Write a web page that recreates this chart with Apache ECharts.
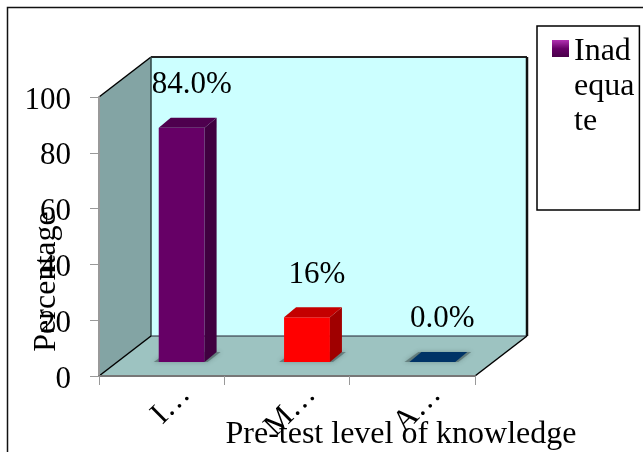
<!DOCTYPE html>
<html>
<head>
<meta charset="utf-8">
<style>html,body{margin:0;padding:0;background:#fff}#c{width:643px;height:452px}</style>
<script src="https://cdn.jsdelivr.net/npm/echarts@6/dist/echarts.min.js"></script>
</head>
<body>
<div id="c"></div>
<script>
// Pre-test knowledge levels, drawn as a pseudo-3D column chart.
const categories = ['I…', 'M…', 'A…'];
const values = [84, 16, 0];
const valueLabels = ['84.0%', '16%', '0.0%'];
const seriesName = 'Inadequate';
const frontColors = ['#660066', '#ff0000', '#003366'];
const sideColors = ['#400040', '#a00000', '#002244'];
const topColors = ['#4e004e', '#c40000', '#003366'];
const yTicks = [0, 100, 20];

const SERIF = '"Liberation Serif", serif';
const FONT = 31;
const TITLE_FONT = 32;
const DEPTH_X = 52, DEPTH_Y = 40;     // wall depth of the box
const BAR_DX = 12, BAR_DY = 10;       // depth of each column
const BAR_SHIFT_X = 20, BAR_SHIFT_Y = 14; // columns stand mid-floor

const chart = echarts.init(document.getElementById('c'), null, { renderer: 'canvas' });

function poly(points, fill, extra) {
  return Object.assign({ type: 'polygon', shape: { points }, style: { fill } }, extra || {});
}
function edge(x1, y1, x2, y2, stroke, lineWidth) {
  return { type: 'line', shape: { x1, y1, x2, y2 }, style: { stroke, lineWidth } };
}

// Back wall, side wall and floor of the box, derived from the plot rectangle.
function renderBox(params) {
  const g = params.coordSys;
  const l = g.x, r = g.x + g.width, t = g.y, b = g.y + g.height;
  const dx = DEPTH_X, dy = DEPTH_Y;
  return {
    type: 'group',
    children: [
      poly([[l + dx, t - dy], [r + dx, t - dy], [r + dx, b - dy], [l + dx, b - dy]], '#ccffff'),
      poly([[l, t], [l + dx, t - dy], [l + dx, b - dy], [l, b]], '#83a4a4'),
      poly([[l, b], [l + dx, b - dy], [r + dx, b - dy], [r, b]], '#9dc3c1'),
      edge(l, t, l + dx, t - dy, '#000', 1.5),
      edge(l + dx, t - dy, r + dx, t - dy, '#222', 2),
      edge(r + dx, t - dy, r + dx, b - dy, '#111', 2.5),
      edge(l + dx, t - dy, l + dx, b - dy, '#2f4444', 1.5),
      edge(l + dx, b - dy, r + dx, b - dy, '#223', 1),
      edge(l, b, l + dx, b - dy, '#000', 1.5),
      edge(r, b, r + dx, b - dy, '#000', 1.5)
    ]
  };
}

// One column: floor shadow, front, side and top faces, and its value label.
function renderBar(params, api) {
  const i = api.value(0);
  const top = api.coord([i, api.value(1)]);
  const base = api.coord([i, 0]);
  const w = api.size([1, 0])[0] * 0.366;
  const x0 = top[0] + BAR_SHIFT_X - w / 2, x1 = x0 + w;
  const yb = base[1] - BAR_SHIFT_Y, yt = top[1] - BAR_SHIFT_Y;
  const dx = BAR_DX, dy = BAR_DY;
  const children = [
    poly([[x0 - 5, yb], [x0 + dx - 3, yb - dy], [x1 + dx + 4, yb - dy], [x1 + 3, yb]], 'rgba(70,90,90,0.55)', {
      style: { fill: 'rgba(70,90,90,0.55)', shadowBlur: 4, shadowColor: 'rgba(60,80,80,0.7)' }
    })
  ];
  if (yb - yt > 0.5) {
    children.push(poly([[x0, yb], [x0, yt], [x1, yt], [x1, yb]], frontColors[i]));
    children.push(poly([[x1, yb], [x1, yt], [x1 + dx, yt - dy], [x1 + dx, yb - dy]], sideColors[i]));
  }
  children.push(poly([[x0, yt], [x0 + dx, yt - dy], [x1 + dx, yt - dy], [x1, yt]], topColors[i]));
  children.push({
    type: 'text',
    style: {
      text: valueLabels[i], x: top[0] + 30, y: yt - dy - 33,
      font: FONT + 'px ' + SERIF, fill: '#000', align: 'center', verticalAlign: 'middle'
    }
  });
  return { type: 'group', children };
}

chart.setOption({
  animation: false,
  backgroundColor: '#fff',
  grid: { left: 99, top: 97, width: 376, height: 279, containLabel: false, outerBoundsMode: 'none' },
  graphic: [{
    type: 'rect', z: -1, silent: true,
    shape: { x: 7.5, y: 7.5, width: 700, height: 500 },
    style: { fill: 'transparent', stroke: '#111', lineWidth: 1.5 }
  }],
  legend: {
    data: [seriesName],
    left: 537, top: 26,
    orient: 'vertical',
    backgroundColor: '#fff',
    borderColor: '#000', borderWidth: 1.5, borderRadius: 0,
    padding: [8, 5, 71, 15],
    itemWidth: 17, itemHeight: 105, itemGap: 0,
    // The swatch sits level with the first line of the wrapped name.
    icon: 'path://M0 0L0.01 0M0 6H17V23H0ZM0 105L0.01 105',
    formatter: () => 'Inad\nequa\nte',
    textStyle: { fontFamily: SERIF, fontSize: TITLE_FONT, lineHeight: 35, color: '#000' },
    itemStyle: {
      color: new echarts.graphic.LinearGradient(0, 0, 0, 1, [
        { offset: 0.06, color: '#b030b0' }, { offset: 0.14, color: '#660066' }, { offset: 0.22, color: '#4a004a' }
      ])
    }
  },
  xAxis: {
    type: 'category',
    data: categories,
    z: 4,
    name: 'Pre-test level of knowledge',
    nameLocation: 'middle',
    nameGap: 43,
    nameMoveOverlap: false,
    nameTextStyle: { fontFamily: SERIF, fontSize: TITLE_FONT, color: '#000', padding: [0, 0, 0, 228] },
    axisLine: { lineStyle: { color: '#777', width: 2 } },
    axisTick: { show: true, length: 9, alignWithLabel: false, lineStyle: { color: '#999', width: 1 } },
    axisLabel: { rotate: 45, interval: 0, margin: 38, padding: [0, -34, 0, 0], fontFamily: SERIF, fontSize: FONT, color: '#000' }
  },
  yAxis: {
    type: 'value',
    min: yTicks[0], max: yTicks[1], interval: yTicks[2],
    z: 4,
    name: 'Percentage',
    nameLocation: 'middle',
    nameRotate: 90,
    nameGap: 36,
    nameMoveOverlap: false,
    nameTextStyle: { fontFamily: SERIF, fontSize: TITLE_FONT, color: '#000', padding: [0, 90, 0, 0] },
    axisLine: { show: true, lineStyle: { color: '#999', width: 2 } },
    axisTick: { show: true, length: 9, lineStyle: { color: '#999', width: 1 } },
    splitLine: { show: false },
    axisLabel: { margin: 28, verticalAlign: 'bottom', padding: [0, 0, -19, 0], fontFamily: SERIF, fontSize: FONT, color: '#000' }
  },
  series: [
    {
      name: 'box', type: 'custom', silent: true, z: 1, clip: false,
      coordinateSystem: 'cartesian2d',
      encode: { x: 0, y: 1 },
      data: [[0, 0]],
      renderItem: renderBox
    },
    {
      name: seriesName, type: 'custom', z: 2, clip: false,
      coordinateSystem: 'cartesian2d',
      encode: { x: 0, y: 1 },
      data: categories.map((c, i) => [i, values[i]]),
      renderItem: renderBar
    }
  ]
});
</script>
</body>
</html>
